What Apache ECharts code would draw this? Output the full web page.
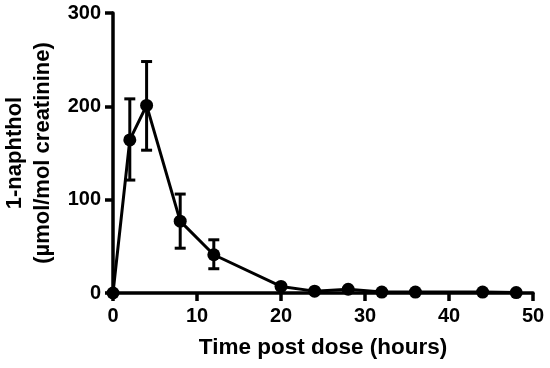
<!DOCTYPE html>
<html><head><meta charset="utf-8">
<script src="https://cdn.jsdelivr.net/npm/echarts@6/dist/echarts.min.js"></script>
<style>html,body{margin:0;padding:0;background:#fff}#c{width:550px;height:368px}</style>
</head><body><div id="c"></div>
<script>
const times = [0, 2, 4, 8, 12, 20, 24, 28, 32, 36, 44, 48];
const means = [0, 164, 201, 77, 41, 7, 2, 4, 1, 1, 1, 0.5];
const errLow = [null, 121, 153, 48, 26, null, null, null, null, null, null, null];
const errHigh = [null, 208, 248, 106, 57, null, null, null, null, null, null, null];
const xTicks = [0, 10, 20, 30, 40, 50];
const yTicks = [0, 100, 200, 300];

const font = 'Liberation Sans, Arial, sans-serif';
const chart = echarts.init(document.getElementById('c'));
const errData = times.map((t, i) => [t, errLow[i], errHigh[i]]).filter(d => d[1] !== null);
chart.setOption({
  animation: false,
  grid: {left: 113, right: 17, top: 13, bottom: 75, containLabel: false, outerBoundsMode: 'none'},
  xAxis: {
    type: 'value', min: xTicks[0], max: xTicks[xTicks.length - 1], interval: xTicks[1] - xTicks[0],
    name: 'Time post dose (hours)', nameLocation: 'middle', nameGap: 43,
    nameTextStyle: {fontFamily: font, fontWeight: 'bold', fontSize: 22.5, color: '#000'},
    axisLine: {lineStyle: {color: '#000', width: 3.5}},
    axisTick: {lineStyle: {color: '#000', width: 3.5}, length: 8},
    axisLabel: {fontFamily: font, fontWeight: 'bold', fontSize: 20, color: '#000', margin: 13},
    splitLine: {show: false}
  },
  yAxis: {
    type: 'value', min: yTicks[0], max: yTicks[yTicks.length - 1], interval: yTicks[1] - yTicks[0],
    name: '1-naphthol\n(µmol/mol creatinine)', nameLocation: 'middle', nameGap: 45,
    nameTextStyle: {fontFamily: font, fontWeight: 'bold', fontSize: 22, color: '#000', lineHeight: 28},
    axisLine: {show: true, lineStyle: {color: '#000', width: 3.5}},
    axisTick: {show: true, lineStyle: {color: '#000', width: 3.5}, length: 8},
    axisLabel: {fontFamily: font, fontWeight: 'bold', fontSize: 20, color: '#000', margin: 12},
    splitLine: {show: false}
  },
  series: [
    {
      type: 'custom', data: errData, z: 3, clip: false,
      renderItem: function (params, api) {
        const x = api.value(0);
        const lo = api.coord([x, api.value(1)]);
        const hi = api.coord([x, api.value(2)]);
        const w = 5.5;
        const st = {stroke: '#000', lineWidth: 3};
        return {type: 'group', children: [
          {type: 'line', shape: {x1: lo[0], y1: lo[1], x2: hi[0], y2: hi[1]}, style: st},
          {type: 'line', shape: {x1: lo[0]-w, y1: lo[1], x2: lo[0]+w, y2: lo[1]}, style: st},
          {type: 'line', shape: {x1: hi[0]-w, y1: hi[1], x2: hi[0]+w, y2: hi[1]}, style: st}
        ]};
      }
    },
    {
      type: 'line', data: times.map((t, i) => [t, means[i]]), z: 4, clip: false,
      symbol: 'circle', symbolSize: 13,
      lineStyle: {color: '#000', width: 3},
      itemStyle: {color: '#000'}
    }
  ]
});
</script></body></html>
